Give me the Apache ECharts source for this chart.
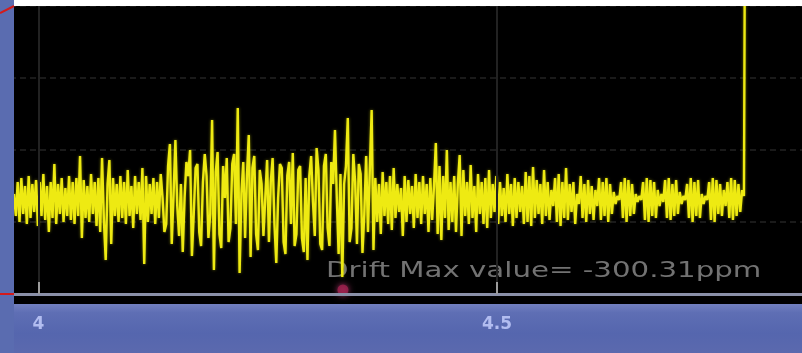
<!DOCTYPE html>
<html>
<head>
<meta charset="utf-8">
<script src="https://cdn.jsdelivr.net/npm/echarts@6/dist/echarts.min.js"></script>
<style>
  html, body { margin: 0; padding: 0; background: #000; }
  #chart { width: 802px; height: 353px; }
</style>
</head>
<body>
<div id="chart"></div>
<script>
// Sampled trace: time base of the capture (start and sample spacing)
const traceStart = 3.9733;
const traceStep = 0.002;

// Trace amplitude per sample (display units, 72 per division)
const traceValues = [
  100, 78, 112, 72, 116, 80, 108, 70, 118, 76, 110, 82, 114, 68, 112, 78, 120, 74, 108, 62,
  112, 76, 130, 70, 110, 80, 116, 72, 106, 78, 118, 74, 112, 70, 116, 78, 138, 56, 114, 76,
  108, 72, 120, 80, 112, 68, 116, 62, 136, 74, 34, 110, 134, 50, 116, 78, 110, 72, 118, 76,
  112, 70, 124, 78, 108, 66, 118, 80, 112, 74, 126, 30, 118, 72, 110, 80, 116, 70, 112, 76,
  120, 96, 62, 70, 128, 150, 50, 100, 154, 88, 58, 110, 42, 96, 132, 118, 144, 38, 80, 126,
  130, 62, 48, 112, 140, 118, 56, 80, 174, 24, 122, 142, 60, 46, 128, 96, 136, 52, 66, 130,
  140, 70, 186, 21, 100, 132, 56, 118, 159, 37, 126, 138, 60, 44, 124, 110, 58, 96, 134, 52,
  112, 136, 70, 31, 96, 130, 126, 52, 40, 118, 132, 70, 141, 48, 60, 124, 128, 56, 42, 116,
  34, 118, 138, 92, 58, 146, 124, 50, 44, 128, 140, 66, 48, 132, 110, 164, 96, 40, 120, 17,
  110, 128, 176, 52, 66, 140, 112, 50, 130, 120, 41, 80, 138, 62, 124, 184, 44, 116, 72, 110,
  60, 122, 78, 112, 70, 118, 64, 126, 76, 110, 82, 106, 58, 118, 72, 114, 80, 108, 66, 120,
  76, 112, 70, 118, 80, 110, 62, 116, 74, 108, 151, 60, 128, 54, 118, 76, 144, 64, 112, 72,
  118, 62, 110, 139, 58, 124, 78, 112, 70, 129, 76, 108, 62, 120, 80, 112, 70, 116, 66, 124,
  76, 110, 82, 118, 70, 112, 78, 106, 72, 120, 80, 110, 68, 116, 76, 112, 82, 108, 70, 122,
  72, 118, 68, 127, 76, 114, 80, 110, 70, 124, 78, 112, 74, 104, 88, 116, 72, 120, 68, 112,
  76, 126, 74, 110, 82, 112, 70, 100, 90, 118, 76, 110, 72, 114, 80, 108, 74, 104, 88, 116,
  74, 112, 78, 116, 72, 110, 80, 102, 90, 98, 94, 112, 76, 116, 72, 114, 78, 110, 80, 100,
  92, 98, 94, 112, 74, 116, 72, 114, 78, 112, 76, 104, 88, 100, 92, 114, 76, 116, 74, 110,
  78, 114, 80, 102, 90, 98, 94, 110, 76, 116, 72, 112, 78, 114, 76, 100, 90, 98, 94, 112,
  74, 116, 72, 114, 80, 110, 78, 104, 88, 112, 76, 116, 74, 114, 78, 110, 82, 104, 98,
  600, 600
];

// Marker at the drift extreme
const driftMarker = [[4.332, 4]];
const driftLabel = 'Drift Max value= -300.31ppm';

// Time axis ticks
const timeTicks = [3.5, 4, 4.5, 5];

const traceData = traceValues.map((v, i) => [traceStart + i * traceStep, v]);

const chart = echarts.init(document.getElementById('chart'), null, { renderer: 'canvas' });

chart.setOption({
  animation: false,
  backgroundColor: '#000000',
  grid: { left: -420, right: -153.5, top: 6, bottom: 59, containLabel: false, outerBoundsMode: 'none' },
  xAxis: {
    type: 'value',
    min: timeTicks[0],
    max: timeTicks[timeTicks.length - 1],
    interval: 0.5,
    offset: 9,
    z: 10,
    axisLine: { show: true, lineStyle: { color: '#8a90a8', width: 3 } },
    axisTick: { show: true, inside: true, length: 12, lineStyle: { color: '#9c9c9c', width: 2 } },
    axisLabel: {
      margin: 13,
      color: '#b2bdf0',
      fontSize: 17,
      fontWeight: 'bold',
      fontFamily: 'DejaVu Sans',
      formatter: v => String(v)
    },
    splitLine: { show: true, lineStyle: { color: '#222222', width: 2 } }
  },
  yAxis: {
    type: 'value',
    min: 0,
    max: 288,
    interval: 72,
    axisLine: { show: false },
    axisTick: { show: false },
    axisLabel: { show: false },
    splitLine: { show: true, lineStyle: { color: '#1a1a1a', width: 2, type: [6, 4] } }
  },
  graphic: [
    {
      type: 'rect', z: -5,
      shape: { x: 0, y: 304, width: 802, height: 49 },
      style: {
        fill: {
          type: 'linear', x: 0, y: 0, x2: 0, y2: 1,
          colorStops: [
            { offset: 0, color: '#7280c0' },
            { offset: 0.18, color: '#5e6eb4' },
            { offset: 0.6, color: '#5566ae' },
            { offset: 1, color: '#5b69ae' }
          ]
        }
      }
    },
    {
      type: 'text', z: 1,
      x: 326, y: 271, scaleX: 1.33,
      style: {
        text: driftLabel,
        x: 0, y: 0,
        fill: '#727272',
        font: '22px "DejaVu Sans"',
        verticalAlign: 'middle'
      }
    },
    { type: 'rect', z: 100, shape: { x: 0, y: 0, width: 14, height: 353 }, style: { fill: '#5a6cb0' } },
    { type: 'rect', z: 100, shape: { x: 14, y: 0, width: 788, height: 6 }, style: { fill: '#ffffff' } },
    { type: 'line', z: 101, shape: { x1: 0, y1: 13, x2: 14, y2: 6 }, style: { stroke: '#d41a1a', lineWidth: 2 } },
    { type: 'line', z: 101, shape: { x1: 0, y1: 294, x2: 14, y2: 294 }, style: { stroke: '#d41a1a', lineWidth: 2 } }
  ],
  series: [
    {
      type: 'line',
      data: traceData,
      showSymbol: false,
      clip: true,
      z: 3,
      lineStyle: { color: '#eeea12', width: 2.4, shadowBlur: 3, shadowColor: 'rgba(200,200,0,0.6)' }
    },
    {
      type: 'scatter',
      data: driftMarker,
      symbolSize: 11,
      z: 4,
      itemStyle: { color: '#a0204e', shadowBlur: 6, shadowColor: '#d04080' }
    }
  ]
});
</script>
</body>
</html>
